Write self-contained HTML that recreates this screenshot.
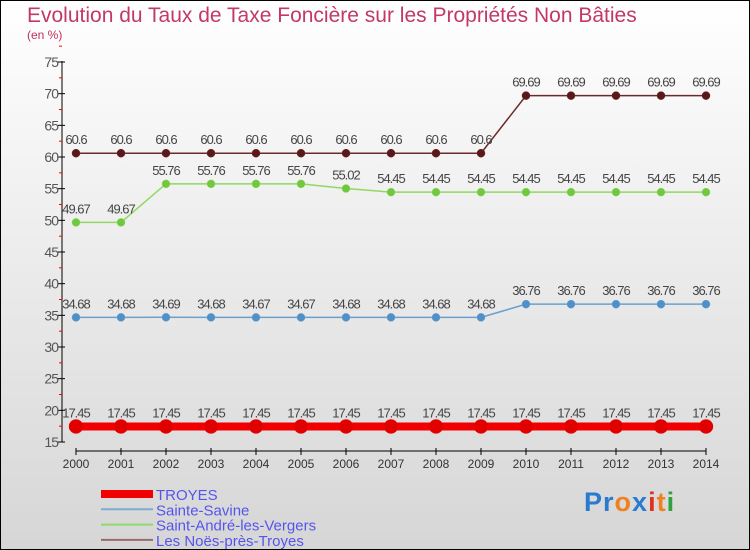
<!DOCTYPE html>
<html><head><meta charset="utf-8"><style>
body{margin:0}
#c{position:relative;width:748px;height:548px;border:1px solid #000;background:linear-gradient(#fff,#d6d6d6);font-family:"Liberation Sans",sans-serif;overflow:hidden}
.t{position:absolute;white-space:nowrap}
</style></head><body>
<div id="c">
<div class="t" style="left:26px;top:3px;font-size:21px;color:#c23a64">Evolution du Taux de Taxe Foncière sur les Propriétés Non Bâties</div>
<div class="t" style="left:26px;top:27px;font-size:12px;color:#c0305a">(en %)</div>
<svg id="s" width="748" height="548" style="position:absolute;left:0;top:0"></svg>
<div class="t" style="left:583px;top:486px;font-size:27px;font-weight:bold;letter-spacing:1px"><span style="color:#2a7bd0">Pr</span><span style="color:#f08020">o</span><span style="color:#2a7bd0">x</span><span style="color:#e03020">i</span><span style="color:#f08020">t</span><span style="color:#30a040">i</span></div>
</div>
<script>
const years=[2000,2001,2002,2003,2004,2005,2006,2007,2008,2009,2010,2011,2012,2013,2014];
const troyes=[17.45,17.45,17.45,17.45,17.45,17.45,17.45,17.45,17.45,17.45,17.45,17.45,17.45,17.45,17.45];
const savine=[34.68,34.68,34.69,34.68,34.67,34.67,34.68,34.68,34.68,34.68,36.76,36.76,36.76,36.76,36.76];
const andre=[49.67,49.67,55.76,55.76,55.76,55.76,55.02,54.45,54.45,54.45,54.45,54.45,54.45,54.45,54.45];
const noes=[60.6,60.6,60.6,60.6,60.6,60.6,60.6,60.6,60.6,60.6,69.69,69.69,69.69,69.69,69.69];
const yTicks=[15,20,25,30,35,40,45,50,55,60,65,70,75];
const seriesNames=['TROYES','Sainte-Savine','Saint-André-les-Vergers','Les Noës-près-Troyes'];
const s=document.getElementById('s');const NS='http://www.w3.org/2000/svg';
const X=i=>75+i*45, Y=v=>441-(v-15)*380/60;
function el(t,a,p){const e=document.createElementNS(NS,t);for(const k in a)e.setAttribute(k,a[k]);(p||s).appendChild(e);return e;}
let ax=el('line',{x1:61,y1:60,x2:61,y2:441,stroke:'#000','stroke-width':1});


yTicks.forEach(v=>{el('line',{x1:57,x2:64,y1:Y(v),y2:Y(v),stroke:'#000'});
el('line',{x1:58,x2:61,y1:Y(v+2.5),y2:Y(v+2.5),stroke:'#f00'});
const t=el('text',{x:57,y:Y(v)+5,'text-anchor':'end','font-size':14,fill:'#555','letter-spacing':'-1'});t.textContent=v;

});
let xa=el('line',{x1:X(0),y1:450,x2:X(14),y2:450,stroke:'#000'});


years.forEach((y,i)=>{el('line',{x1:X(i),x2:X(i),y1:447,y2:454,stroke:'#000'});
const t=el('text',{x:X(i),y:467,'text-anchor':'middle','font-size':12,fill:'#333'});t.textContent=y;

});
function series(d,col,dot,w,r,name){
const g=el('g',{});


el('polyline',{points:d.map((v,i)=>X(i)+','+Y(v)).join(' '),fill:'none',stroke:col,'stroke-width':w},g);
d.forEach((v,i)=>{const c=el('circle',{cx:X(i),cy:Y(v),r:r,fill:dot,stroke:col,'stroke-width':0.5},g);


const t=el('text',{x:X(i),y:Y(v)-9,'text-anchor':'middle','font-size':13,fill:'#444','letter-spacing':'-1'},g);
t.textContent=String(v);

});}
series(noes,'#6a2a2a','#5a1818',1.5,4,'series-les-noes');
series(andre,'#90d860','#70c840',1.5,4,'series-saint-andre');
series(savine,'#6aa0cc','#5090c8',1.5,4,'series-sainte-savine');
series(troyes,'#f00000','#e00000',8,7,'series-troyes');
const lc=['#f00000','#7aaed0','#90d870','#9a6a6a'],lw=[8,2,2,2];
seriesNames.forEach((n,i)=>{const y=493+i*15.3;
const l=el('line',{x1:100,x2:152,y1:y,y2:y,stroke:lc[i],'stroke-width':lw[i]});


const t=el('text',{x:155,y:y+6,'font-size':15,fill:'#5555ee'});t.textContent=n;

});
</script>
</body></html>
